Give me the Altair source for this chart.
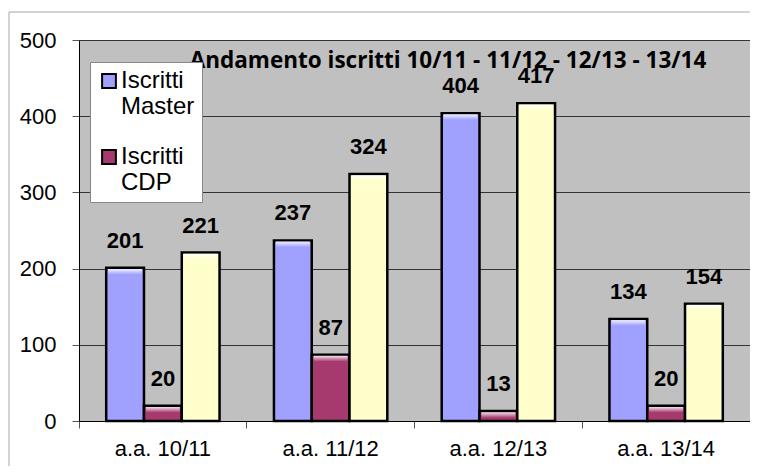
import altair as alt
import pandas as pd

categories = ["a.a. 10/11", "a.a. 11/12", "a.a. 12/13", "a.a. 13/14"]
series = ["Iscritti Master", "Iscritti CDP", "Totale"]
master = [201, 237, 404, 134]
cdp = [20, 87, 13, 20]
totale = [221, 324, 417, 154]
colors = ["#a0a0ff", "#a6396e", "#ffffcc"]
title_text = "Andamento iscritti 10/11 - 11/12 - 12/13 - 13/14"

rows = []
for i, c in enumerate(categories):
    for s, vals in zip(series, [master, cdp, totale]):
        rows.append({"anno": c, "serie": s, "valore": vals[i]})
df = pd.DataFrame(rows)

W, H = 671, 381
FONT = "Liberation Sans"

x_enc = alt.X(
    "anno:N", sort=categories,
    scale=alt.Scale(paddingInner=0, paddingOuter=0),
    axis=alt.Axis(title=None, bandPosition=0, labelAngle=0,
                  labelFont=FONT, labelFontSize=22, labelColor="black",
                  tickSize=7, tickColor="#555", domainColor="black",
                  labelPadding=10, grid=False),
)
y_enc = alt.Y(
    "valore:Q",
    scale=alt.Scale(domain=[0, 500], nice=False),
    axis=alt.Axis(title=None, values=[0, 100, 200, 300, 400, 500],
                  labelFont=FONT, labelFontSize=22, labelColor="black",
                  tickSize=7, tickColor="#555", domainColor="black",
                  labelPadding=16, grid=True, gridColor="#333", gridWidth=1),
)
xoff = alt.XOffset("serie:N", sort=series,
                   scale=alt.Scale(domain=series, paddingOuter=0.72, paddingInner=0))

base = alt.Chart(df)

bars = base.mark_bar(stroke="black", strokeWidth=2.5).encode(
    x=x_enc, y=y_enc, xOffset=xoff,
    color=alt.Color(
        "serie:N",
        scale=alt.Scale(domain=series, range=colors),
        legend=alt.Legend(
            title=None, orient="none", legendX=11, legendY=22,
            values=["Iscritti Master", "Iscritti CDP"],
            fillColor="white", strokeColor="#888", padding=7,
            symbolType="square", symbolSize=190, symbolStrokeColor="black",
            symbolStrokeWidth=2, labelFont=FONT, labelFontSize=24,
            labelColor="black", labelExpr="split(datum.label, ' ')",
            rowPadding=26, labelLimit=200, labelOffset=0,
        ),
    ),
)

highlight = base.transform_calculate(
    top="datum.valore - 1.5",
    bot="max(datum.valore - 9, 1)",
).mark_bar(
    width=34,
    fill=alt.Gradient(
        gradient="linear", x1=0, x2=0, y1=0, y2=1,
        stops=[alt.GradientStop(color="rgba(255,255,255,0.85)", offset=0),
               alt.GradientStop(color="rgba(255,255,255,0)", offset=1)],
    ),
).encode(
    x=alt.X("anno:N", sort=categories), xOffset=xoff,
    y=alt.Y("top:Q"), y2="bot:Q",
)

labels = base.mark_text(font=FONT, fontSize=22, fontWeight="bold", color="black",
                        baseline="alphabetic", dy=-20).encode(
    x=alt.X("anno:N", sort=categories), y="valore:Q", xOffset=xoff,
    text="valore:Q",
)

frame_df = pd.DataFrame({"t": [title_text]})
frame = alt.Chart(frame_df).mark_rect(fillOpacity=0, stroke="#a6a6a6", strokeWidth=1).encode(
    x=alt.value(-70), x2=alt.value(W + 30), y=alt.value(-28), y2=alt.value(H + 80)
)
title = alt.Chart(frame_df).mark_text(font="Open Sans", fontSize=22.5, fontWeight="bold",
                                      color="black", baseline="alphabetic").encode(
    x=alt.value(369), y=alt.value(28), text="t:N"
)

chart = alt.layer(frame, bars, highlight, labels, title).properties(
    width=W, height=H,
    padding={"left": 71, "top": 32, "right": 0, "bottom": 45},
    autosize=alt.AutoSizeParams(type="none"),
    background="white",
).configure_view(fill="#c0c0c0", stroke=None)

chart.save("out.html", embed_options={"renderer": "svg", "actions": False})
